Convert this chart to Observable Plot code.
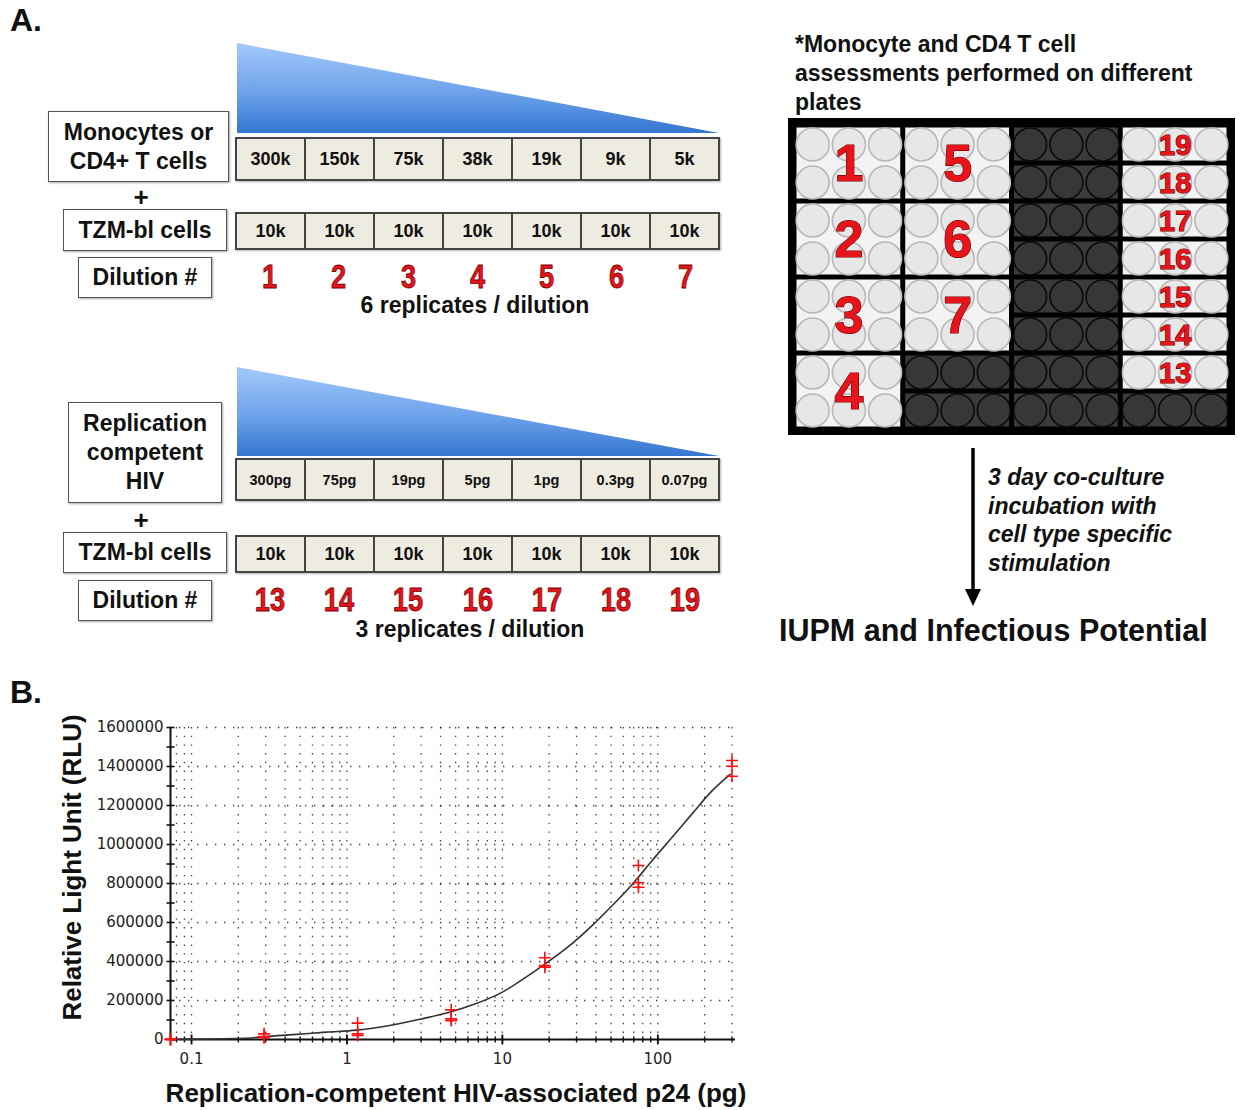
<!DOCTYPE html>
<html><head><meta charset="utf-8">
<script src="https://cdn.jsdelivr.net/npm/d3@7"></script>
<script src="https://cdn.jsdelivr.net/npm/@observablehq/plot@0.6"></script>
<style>
body{margin:0;background:#fff;font-family:"Liberation Sans",Arial,sans-serif;color:#111;}
#page{position:relative;width:1239px;height:1110px;overflow:hidden;background:#fff;}
.abs{position:absolute;}
.b{font-weight:bold;}
.box{position:absolute;border:1.5px solid #555;background:#fff;display:flex;align-items:center;justify-content:center;text-align:center;font-weight:bold;font-size:23px;line-height:29px;box-sizing:border-box;box-shadow:1px 1px 2px rgba(0,0,0,.35);}
.row{position:absolute;display:flex;box-sizing:border-box;border:2px solid #444;background:#eeebe0;box-shadow:1px 1px 2px rgba(0,0,0,.3);}
.row div{flex:1;border-right:2px solid #444;display:flex;align-items:center;justify-content:center;font-weight:bold;font-size:18px;}
.row div:last-child{border-right:none;}
.row.pg div{font-size:14.5px;}
.nums{position:absolute;display:flex;}
.nums div{flex:1;text-align:center;height:27px;}
.nums span{display:inline-block;transform:scaleX(0.8);color:#e3141b;font-weight:bold;font-size:34px;line-height:27px;-webkit-text-stroke:0.8px #700;}
.plus{position:absolute;font-weight:bold;font-size:26px;width:30px;text-align:center;line-height:26px;}
.center{position:absolute;text-align:center;font-weight:bold;font-size:23px;line-height:21px;}
</style></head>
<body>
<div id="page">
  <div class="abs b" style="left:10px;top:2px;font-size:32px;line-height:36px;">A.</div>
  <div id="tri1" class="abs" style="left:236px;top:42px;"></div>
  <div class="box" style="left:48px;top:111px;width:181px;height:71px;">Monocytes or<br>CD4+ T cells</div>
  <div id="row1" class="row" style="left:235px;top:137px;width:485px;height:44px;"></div>
  <div class="plus" style="left:126px;top:184px;">+</div>
  <div class="box" style="left:63px;top:209px;width:164px;height:42px;">TZM-bl cells</div>
  <div id="row2" class="row" style="left:235px;top:212px;width:485px;height:38px;"></div>
  <div class="box" style="left:78px;top:257px;width:134px;height:41px;">Dilution #</div>
  <div id="nums1" class="nums" style="left:235px;top:263px;width:485px;"></div>
  <div class="center" style="left:275px;top:294.5px;width:400px;">6 replicates / dilution</div>

  <div id="tri2" class="abs" style="left:236px;top:366px;"></div>
  <div class="box" style="left:68px;top:402px;width:154px;height:101px;">Replication<br>competent<br>HIV</div>
  <div id="row3" class="row pg" style="left:235px;top:458px;width:485px;height:43px;"></div>
  <div class="plus" style="left:126px;top:507px;">+</div>
  <div class="box" style="left:63px;top:532px;width:164px;height:41px;">TZM-bl cells</div>
  <div id="row4" class="row" style="left:235px;top:535px;width:485px;height:38px;"></div>
  <div class="box" style="left:78px;top:580px;width:134px;height:41px;">Dilution #</div>
  <div id="nums2" class="nums" style="left:235px;top:586px;width:485px;"></div>
  <div class="center" style="left:270px;top:618.5px;width:400px;">3 replicates / dilution</div>

  <div class="abs b" style="left:795px;top:30px;font-size:23px;line-height:29px;width:440px;">*Monocyte and CD4 T cell<br>assessments performed on different<br>plates</div>
  <div id="plate" class="abs" style="left:788px;top:118px;"></div>
  <svg class="abs" style="left:963px;top:446px;" width="20" height="162">
    <line x1="10" y1="2" x2="10" y2="146" stroke="#000" stroke-width="3.5"/>
    <polygon points="2,143 18,143 10,160" fill="#000"/>
  </svg>
  <div class="abs b" style="left:988px;top:463px;font-size:23px;line-height:28.7px;font-style:italic;">3 day co-culture<br>incubation with<br>cell type specific<br>stimulation</div>
  <div class="abs b" style="left:779px;top:612px;font-size:30.5px;line-height:36px;">IUPM and Infectious Potential</div>

  <div class="abs b" style="left:10px;top:674px;font-size:32px;line-height:36px;">B.</div>
  <div id="chartB" class="abs" style="left:0px;top:700px;"></div>
</div>
<script>
// ---------- Panel A data ----------
const monoCells = ["300k","150k","75k","38k","19k","9k","5k"];
const tzmCells = ["10k","10k","10k","10k","10k","10k","10k"];
const monoDilutions = ["1","2","3","4","5","6","7"];
const hivCells = ["300pg","75pg","19pg","5pg","1pg","0.3pg","0.07pg"];
const hivDilutions = ["13","14","15","16","17","18","19"];

// plate map: 8 well rows x 4 groups of 3 wells; null = unused well
const plateMap = [
  ["1","5",null,"19"],
  ["1","5",null,"18"],
  ["2","6",null,"17"],
  ["2","6",null,"16"],
  ["3","7",null,"15"],
  ["3","7",null,"14"],
  ["4",null,null,"13"],
  ["4",null,null,null]
];

// ---------- Panel B data ----------
const p24 = [300, 75, 18.75, 4.6875, 1.171875, 0.29297, 0.07324];
const rluRep1 = [1431000, 892000, 419000, 152000, 84000, 29000, 2000];
const rluRep2 = [1401000, 804000, 379000, 106000, 29000, 15000, 0];
const rluRep3 = [1350000, 781000, 371000, 97000, 20500, 8700, 0];
const fitP24 = [0.07324, 0.1, 0.24, 0.3, 0.45, 0.74, 1.15, 2, 2.94, 4.8, 6.45, 10, 13.5, 19.05, 28.3, 37.9, 50.9, 68.4, 92, 123.6, 166, 223, 292];
const fitRlu = [1000, 2000, 8000, 15000, 25000, 38000, 48000, 76000, 104000, 145000, 178000, 243000, 308000, 390000, 494000, 585000, 687000, 795000, 918000, 1037000, 1157000, 1275000, 1360000];
const yLabelTicks = [0, 200000, 400000, 600000, 800000, 1000000, 1200000, 1400000, 1600000];
const xLabelTicks = [0.1, 1, 10, 100];

// ---------- Panel A build ----------
function fillRow(id, items){ const r=document.getElementById(id); items.forEach(t=>{const d=document.createElement("div"); d.textContent=t; r.appendChild(d);}); }
fillRow("row1", monoCells); fillRow("row2", tzmCells); fillRow("row3", hivCells); fillRow("row4", tzmCells);
function fillNums(id, items){ const r=document.getElementById(id); items.forEach(t=>{const d=document.createElement("div"); const s=document.createElement("span"); s.textContent=t; d.appendChild(s); r.appendChild(d);}); }
fillNums("nums1", monoDilutions); fillNums("nums2", hivDilutions);

function triangle(id, gid, w, h){
  const ns="http://www.w3.org/2000/svg";
  const svg=document.createElementNS(ns,"svg"); svg.setAttribute("width",w); svg.setAttribute("height",h);
  svg.innerHTML = `<defs><linearGradient id="${gid}" x1="0" y1="0" x2="0" y2="1">
     <stop offset="0" stop-color="#a4c9fb"/><stop offset="0.55" stop-color="#6da2ea"/><stop offset="1" stop-color="#3476d0"/></linearGradient></defs>
     <polygon points="1,1 1,${h} ${w},${h}" fill="url(#${gid})"/>`;
  document.getElementById(id).appendChild(svg);
}
triangle("tri1","g1",483,91);
triangle("tri2","g2",483,90);

// plate
const segs = [];
for (let g=0; g<4; g++){
  let r=0;
  while(r<8){
    const lab = plateMap[r][g];
    if(lab===null){ segs.push({g, r0:r, r1:r+1, label:null}); r++; }
    else { let r1=r+1; while(r1<8 && plateMap[r1][g]===lab) r1++; segs.push({g, r0:r, r1, label:lab}); r=r1; }
  }
}
const wells = [];
for (let r=0;r<8;r++) for (let g=0; g<4; g++) for (let k=0;k<3;k++) wells.push({x:g*3+k+0.5, y:r+0.5, on: plateMap[r][g]!==null});

const plate = Plot.plot({
  width: 447, height: 317,
  marginLeft: 6, marginRight: 6, marginTop: 7, marginBottom: 6,
  x: {domain:[0,12], axis:null},
  y: {domain:[0,8], reverse:true, axis:null},
  color: {type:"identity"},
  style: {background:"#000", fontFamily:"'Liberation Sans', Arial, sans-serif"},
  marks: [
    Plot.rect(segs, {x1: d=>d.g*3, x2: d=>d.g*3+3, y1:"r0", y2:"r1", inset:2.5, fill: d=>d.label?"#f3f3f3":"#3b3b3b"}),
    Plot.dot(wells, {x:"x", y:"y", r:16.5, fill: d=>d.on?"#e7e7e7":"#373737", stroke: d=>d.on?"#b8b8b8":"#0a0a0a", strokeWidth:1.6}),
    Plot.text(segs.filter(d=>d.label), {x: d=>d.g*3+1.5, y: d=>(d.r0+d.r1)/2, text:"label",
      fontSize: d=> d.r1-d.r0>1 ? 52 : 29, fontWeight:"bold", fill:"#e8141b", stroke:"#6a0000", strokeWidth:1.2, dy: 1})
  ]
});
document.getElementById("plate").appendChild(plate);

// ---------- Panel B ----------
const points = [];
p24.forEach((x,i)=>{ points.push({x, y:rluRep1[i]}); points.push({x, y:rluRep2[i]}); points.push({x, y:rluRep3[i]}); });
const fit = fitP24.map((x,i)=>({x, y:fitRlu[i]}));
const xmin = 0.07324, xmax = 316;
const xMinor = d3.scaleLog().domain([0.08, 300]).ticks().filter(v=>v>=0.08 && v<=300);
const xMajor = [0.1, 1, 10, 100];
const yMinor = d3.range(0, 1600001, 100000);
const yGrid = d3.range(200000, 1600001, 200000);

function lineSymbol(kind){
  return {draw(ctx, size){ const r=Math.sqrt(size/Math.PI);
    if(kind!=="v"){ ctx.moveTo(-r,0); ctx.lineTo(r,0); }
    if(kind!=="h"){ ctx.moveTo(0,-r); ctx.lineTo(0,r); } }};
}

const chart = Plot.plot({
  width: 760, height: 410,
  marginLeft: 170, marginRight: 25, marginTop: 27, marginBottom: 71,
  x: {type:"log", domain:[xmin, xmax], ticks: xLabelTicks, tickSize:0, tickPadding:14, tickFormat: d=>String(d), label:null},
  y: {domain:[0,1600000], ticks: yLabelTicks, tickSize:0, tickPadding:7, tickFormat: d=>String(d), label:null},
  style: {fontFamily:"'DejaVu Sans', Verdana, sans-serif", fontSize:"15px", color:"#222", overflow:"visible", background:"transparent"},
  marks: [
    Plot.ruleX(xMinor, {stroke:"#000", strokeOpacity:0.75, strokeWidth:1.3, strokeDasharray:"1.4,7.3"}),
    Plot.ruleY(yGrid, {stroke:"#000", strokeOpacity:0.75, strokeWidth:1.3, strokeDasharray:"1.4,7.6"}),
    Plot.ruleY([0], {stroke:"#111", strokeWidth:2}),
    Plot.ruleX([xmin], {stroke:"#111", strokeWidth:2}),
    Plot.dot(yMinor, {x: ()=>xmin, y: d=>d, symbol: lineSymbol("h"), r:4, stroke:"#111", strokeWidth:1.6, fill:"none"}),
    Plot.dot(xMinor, {x: d=>d, y: ()=>0, symbol: lineSymbol("v"), r:3, stroke:"#111", strokeWidth:1.4, fill:"none"}),
    Plot.dot(xMajor, {x: d=>d, y: ()=>0, symbol: lineSymbol("v"), r:5, stroke:"#111", strokeWidth:1.8, fill:"none"}),
    Plot.line(fit, {x:"x", y:"y", curve:"monotone-x", stroke:"#333", strokeWidth:1.6}),
    Plot.dot(points, {x:"x", y:"y", symbol: lineSymbol("plus"), r:6, stroke:"#ff1010", strokeWidth:1.6, fill:"none", clip:false}),
    Plot.text(["Replication-competent HIV-associated p24 (pg)"], {frameAnchor:"bottom", lineAnchor:"middle", textAnchor:"middle", dy:54, dx:3, fontSize:26, fontWeight:"bold", fontFamily:"'Liberation Sans', Arial, sans-serif", fill:"#111"}),
    Plot.text(["Relative Light Unit (RLU)"], {frameAnchor:"left", textAnchor:"middle", lineAnchor:"middle", dx:-98, dy:-16, rotate:-90, fontSize:26, fontWeight:"bold", fontFamily:"'Liberation Sans', Arial, sans-serif", fill:"#111"})
  ]
});
document.getElementById("chartB").appendChild(chart);
</script>
</body></html>
